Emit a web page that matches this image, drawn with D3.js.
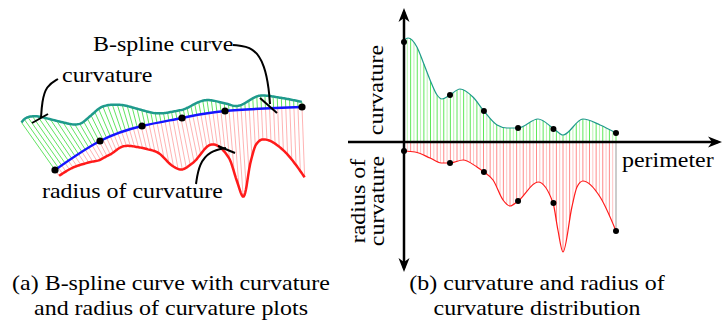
<!DOCTYPE html>
<html>
<head>
<meta charset="utf-8">
<script src="https://cdn.jsdelivr.net/npm/d3@7"></script>
<style>
  body { margin: 0; background: #fff; }
  text { font-family: "Liberation Serif", "DejaVu Serif", serif; font-size: 21px; fill: #000; }
</style>
</head>
<body>
<svg id="chart" width="726" height="325"></svg>
<script>
// B-spline knots of panel (a), local units
const splineX = [0, 45, 87, 127, 170, 247];
const splineY = [0, 29, 44, 52, 59, 63];

// knot positions along the perimeter (0-100) and their values
const knotPerimeter = [0, 21.7, 37.7, 53.8, 70.5, 100];
const knotCurvature = [100, 47, 31, 14, 13, 9];
const knotRadius = [9, 21, 30, 59, 61, 89];

// curvature distribution
const curvPerimeter = [0, 1.9, 6.1, 9, 12.3, 15.6, 17.9, 21.7, 26.4, 32.5, 37.7, 43.9, 48.6, 53.8, 63.2, 70.8, 75, 84.4, 92.5, 100];
const curvValue = [102, 104, 95, 80, 62, 47, 43, 47, 53, 45, 31, 17, 14, 14, 23, 13, 7, 23, 17, 9];

// radius of curvature distribution
const radPerimeter = [0, 5.2, 12.3, 17.5, 21.7, 27.8, 34.4, 37.7, 42, 46.7, 50, 53.8, 63.2, 70.3, 72.6, 75, 79.2, 81.6, 84.4, 92.5, 100];
const radValue = [9, 10, 16, 21, 21, 18, 25, 30, 38, 58, 64, 59, 40, 61, 88, 110, 65, 45, 39, 55, 89];

const captionA = ["(a) B-spline curve with curvature", "and radius of curvature plots"];
const captionB = ["(b) curvature and radius of", "curvature distribution"];

const svg = d3.select("#chart");
const stretch = 1.14;

// panel b scales
const xB = d3.scaleLinear().domain([0, 100]).range([404, 616]);
const yCurv = d3.scaleLinear().domain([0, 100]).range([142, 42]);
const yRad = d3.scaleLinear().domain([0, 100]).range([142, 242]);

// panel a scales
const xA = d3.scaleLinear().domain([0, 247]).range([55, 302]);
const yA = d3.scaleLinear().domain([0, 63]).range([170, 107]);
const offC = d3.scaleLinear().domain([0, 100]).range([0, 57]);
const offR = d3.scaleLinear().domain([0, 100]).range([0, 79]);

const hatchP = d3.range(0, 100.001, 100 / 64);

// arrow head
svg.append("defs").append("marker")
  .attr("id", "arrow")
  .attr("viewBox", "-12 -7 18 14")
  .attr("markerWidth", 18).attr("markerHeight", 14)
  .attr("markerUnits", "userSpaceOnUse")
  .attr("orient", "auto-start-reverse")
  .append("path")
  .attr("d", "M4,0 L-10,-5.5 L-6,0 L-10,5.5 Z")
  .attr("fill", "#000");

// layers
const hatchA = svg.append("g");
const hatchB = svg.append("g");
const curvesA = svg.append("g");
const curvesB = svg.append("g");
const axesB = svg.append("g");
const dots = svg.append("g");
const notes = svg.append("g");

// ---- panel b curves
const curvLine = d3.line().x(d => xB(d[0])).y(d => yCurv(d[1])).curve(d3.curveMonotoneX);
const radLine = d3.line().x(d => xB(d[0])).y(d => yRad(d[1])).curve(d3.curveMonotoneX);

const curvPath = curvesB.append("path")
  .attr("d", curvLine(d3.zip(curvPerimeter, curvValue)))
  .attr("fill", "none").attr("stroke", "#1f9a8c").attr("stroke-width", 1.2);

const radPath = curvesB.append("path")
  .attr("d", radLine(d3.zip(radPerimeter, radValue)))
  .attr("fill", "none").attr("stroke", "#ff1a1a").attr("stroke-width", 1.2);

// value at a perimeter position, read back from a drawn curve
function sampler(node, yScale) {
  const L = node.getTotalLength();
  const pts = d3.range(0, 1501).map(i => node.getPointAtLength(L * i / 1500));
  const bis = d3.bisector(d => d.x).left;
  return p => {
    const x = xB(p);
    let i = Math.max(1, Math.min(pts.length - 1, bis(pts, x)));
    const a = pts[i - 1], b = pts[i];
    const t = b.x === a.x ? 0 : (x - a.x) / (b.x - a.x);
    return yScale.invert(a.y + t * (b.y - a.y));
  };
}
const curvAt = sampler(curvPath.node(), yCurv);
const radAt = sampler(radPath.node(), yRad);

hatchB.selectAll(".hc").data(hatchP).enter().append("line")
  .attr("x1", d => xB(d)).attr("x2", d => xB(d))
  .attr("y1", yCurv(0)).attr("y2", d => yCurv(curvAt(d)))
  .attr("stroke", (d, i) => i % 2 ? "#b8f5b0" : "#5fe85a")
  .attr("stroke-width", 1);

hatchB.selectAll(".hr").data(hatchP).enter().append("line")
  .attr("x1", d => xB(d)).attr("x2", d => xB(d))
  .attr("y1", yRad(0)).attr("y2", d => yRad(radAt(d)))
  .attr("stroke", (d, i) => i === hatchP.length - 1 ? "#999" : (i % 2 ? "#ffc4c4" : "#ff8a8a"))
  .attr("stroke-width", 1);

// axes of panel b
axesB.append("line")
  .attr("x1", xB(0)).attr("x2", xB(0))
  .attr("y1", 268).attr("y2", 12)
  .attr("stroke", "#000").attr("stroke-width", 2.5)
  .attr("marker-start", "url(#arrow)").attr("marker-end", "url(#arrow)");
axesB.append("line")
  .attr("x1", 348).attr("x2", 718)
  .attr("y1", yCurv(0)).attr("y2", yCurv(0))
  .attr("stroke", "#000").attr("stroke-width", 2.5)
  .attr("marker-end", "url(#arrow)");

dots.selectAll(".dc").data(d3.zip(knotPerimeter, knotCurvature)).enter().append("circle")
  .attr("cx", d => xB(d[0])).attr("cy", d => yCurv(d[1])).attr("r", 3);
dots.selectAll(".dr").data(d3.zip(knotPerimeter, knotRadius)).enter().append("circle")
  .attr("cx", d => xB(d[0])).attr("cy", d => yRad(d[1])).attr("r", 3);

// ---- panel a: B-spline with curvature / radius drawn along its normals
const splineLine = d3.line().x(d => xA(d[0])).y(d => yA(d[1])).curve(d3.curveNatural);
const splinePts = d3.zip(splineX, splineY);
const blue = curvesA.append("path")
  .attr("d", splineLine(splinePts))
  .attr("fill", "none").attr("stroke", "#1515ff").attr("stroke-width", 2.5);
const blueNode = blue.node();
const blueLen = blueNode.getTotalLength();

function frame(p) {
  const s = blueLen * p / 100;
  const pt = blueNode.getPointAtLength(s);
  const a = blueNode.getPointAtLength(Math.max(0, s - 1));
  const b = blueNode.getPointAtLength(Math.min(blueLen, s + 1));
  const dx = b.x - a.x, dy = b.y - a.y, n = Math.hypot(dx, dy);
  return { x: pt.x, y: pt.y, nx: dy / n, ny: -dx / n };
}
const upPoint = p => { const f = frame(p), o = offC(curvAt(p)); return [f.x + f.nx * o, f.y + f.ny * o]; };
const downPoint = p => { const f = frame(p), o = offR(radAt(p)); return [f.x - f.nx * o, f.y - f.ny * o]; };

hatchA.selectAll(".ha").data(hatchP).enter().append("line")
  .attr("x1", d => frame(d).x).attr("y1", d => frame(d).y)
  .attr("x2", d => upPoint(d)[0]).attr("y2", d => upPoint(d)[1])
  .attr("stroke", "#4fe04f").attr("stroke-width", 0.9);
hatchA.selectAll(".hb").data(hatchP).enter().append("line")
  .attr("x1", d => frame(d).x).attr("y1", d => frame(d).y)
  .attr("x2", d => downPoint(d)[0]).attr("y2", d => downPoint(d)[1])
  .attr("stroke", "#ffaaaa").attr("stroke-width", 0.9);

const dense = d3.range(0, 100.001, 0.4);
curvesA.append("path")
  .attr("d", d3.line()(dense.map(upPoint)))
  .attr("fill", "none").attr("stroke", "#1f9a8c").attr("stroke-width", 2.5);
curvesA.append("path")
  .attr("d", d3.line()(dense.map(downPoint)))
  .attr("fill", "none").attr("stroke", "#ff1a1a").attr("stroke-width", 2.5);
blue.raise();

dots.selectAll(".da").data(splinePts).enter().append("circle")
  .attr("cx", d => xA(d[0])).attr("cy", d => yA(d[1])).attr("r", 3.6);

// ---- annotations
const leader = d3.line().curve(d3.curveBasis);
const leaders = [
  [[58, 79], [46, 86], [42, 102], [41, 118]],
  [[233, 45], [254, 47], [265, 66], [269, 90], [270, 104]],
  [[196, 184], [199, 164], [210, 151], [226, 148]]
];
const ticks = [
  [[32, 123], [48, 114]],
  [[260, 98], [277, 113]],
  [[218, 146], [235, 153]]
];
notes.selectAll(".ld").data(leaders).enter().append("path")
  .attr("d", d => leader(d)).attr("fill", "none").attr("stroke", "#000").attr("stroke-width", 2);
notes.selectAll(".tk").data(ticks).enter().append("path")
  .attr("d", d => d3.line()(d)).attr("stroke", "#000").attr("stroke-width", 2);

function label(txt, x, y, anchor, rotate) {
  const t = notes.append("text").attr("x", x).attr("y", y)
    .attr("text-anchor", anchor || "start").text(txt);
  if (rotate) t.attr("transform", `rotate(-90,${x},${y})`);
  const w = t.node().getComputedTextLength();
  t.attr("textLength", w * stretch).attr("lengthAdjust", "spacingAndGlyphs");
  return t;
}

label("B-spline curve", 93, 51);
label("curvature", 62, 82);
label("radius of curvature", 42, 198);
label("perimeter", 622, 167);
label("curvature", 383, 90, "middle", true);
label("radius of", 365, 201, "middle", true);
label("curvature", 384, 201, "middle", true);

captionA.forEach((c, i) => label(c, 171, 290 + i * 25, "middle"));
captionB.forEach((c, i) => label(c, 537, 290 + i * 25, "middle"));
</script>
</body>
</html>
